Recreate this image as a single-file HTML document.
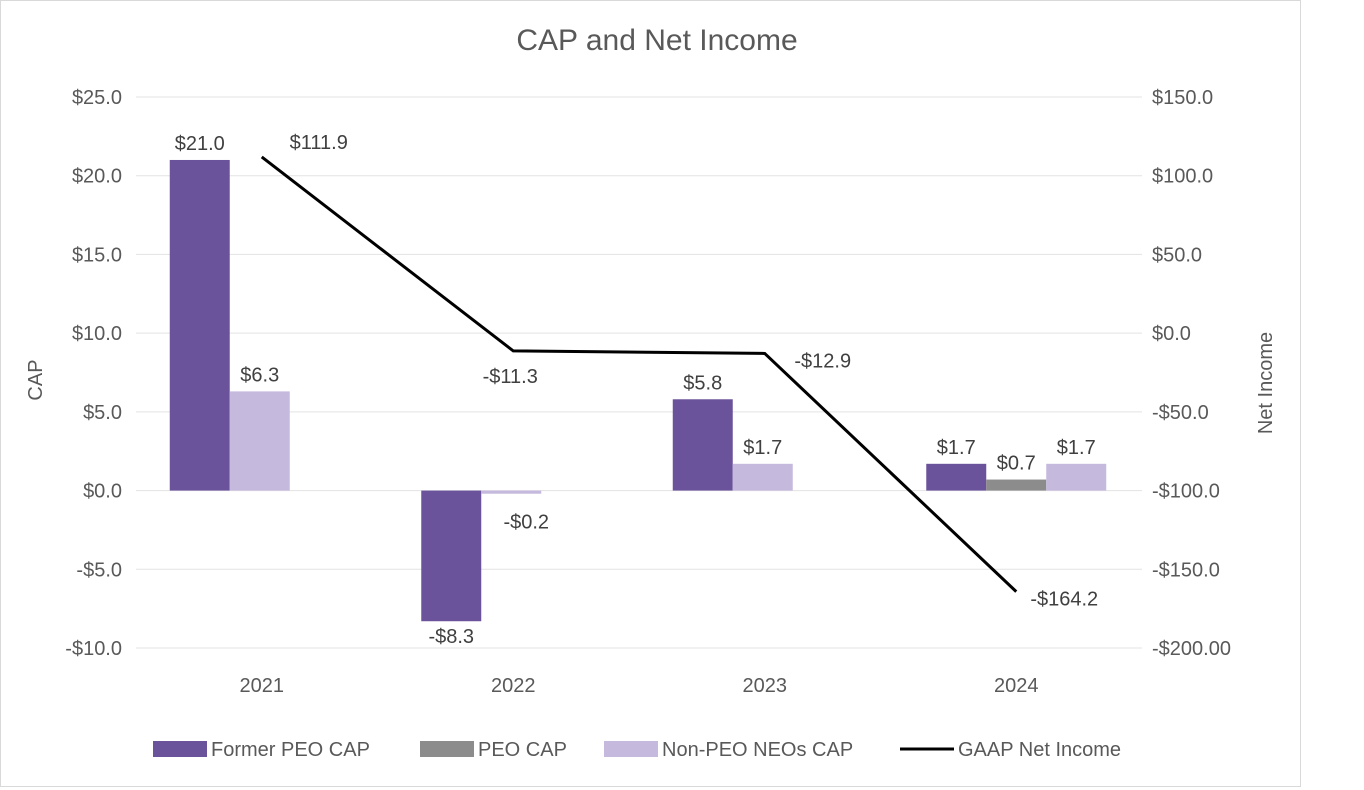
<!DOCTYPE html>
<html><head><meta charset="utf-8"><style>
body{margin:0;background:#fff;}
svg{display:block;font-family:"Liberation Sans",sans-serif;}
</style></head><body>
<svg id="c" width="1364" height="790"></svg>
<script>
const categories=["2021","2022","2023","2024"];
const formerPeo=[21.0,-8.3,5.8,1.7];
const peoCap=[null,null,null,0.7];
const nonPeo=[6.3,-0.2,1.7,1.7];
const netIncome=[111.9,-11.3,-12.9,-164.2];
const leftTicks=[25,20,15,10,5,0,-5,-10];
const leftTickLabels=["$25.0","$20.0","$15.0","$10.0","$5.0","$0.0","-$5.0","-$10.0"];
const rightTicks=[150,100,50,0,-50,-100,-150,-200];
const rightTickLabels=["$150.0","$100.0","$50.0","$0.0","-$50.0","-$100.0","-$150.0","-$200.00"];

const svg=document.getElementById('c');
const NS='http://www.w3.org/2000/svg';
function mk(t,a,txt){const e=document.createElementNS(NS,t);for(const k in a)e.setAttribute(k,a[k]);if(txt!=null)e.textContent=txt;svg.appendChild(e);return e;}
const X0=136,X1=1142,TOP=97,BOT=648;
const yL=v=>TOP+(25-v)*(BOT-TOP)/35;
const yR=v=>TOP+(150-v)*(BOT-TOP)/350;
const bw=(X1-X0)/categories.length;
const cx=i=>X0+bw*(i+0.5);
const gray='#595959';

let e=mk('rect',{x:0.5,y:0.5,width:1300,height:786,fill:'#fff',stroke:'#d9d9d9'});

e=mk('text',{x:657,y:50,'text-anchor':'middle','font-size':30,fill:gray},'CAP and Net Income');


leftTicks.forEach((v,i)=>{
  e=mk('line',{x1:X0,x2:X1,y1:yL(v),y2:yL(v),stroke:'#e3e3e3','stroke-width':1});
  
  e=mk('text',{x:122,y:yL(v)+7,'text-anchor':'end','font-size':20,fill:gray},leftTickLabels[i]);
  
});
rightTicks.forEach((v,i)=>{
  e=mk('text',{x:1152,y:yR(v)+7,'font-size':20,fill:gray},rightTickLabels[i]);
  
});
e=mk('text',{x:42,y:380,'text-anchor':'middle','font-size':20,fill:gray,transform:'rotate(-90 42 380)'},'CAP');

e=mk('text',{x:1272,y:383,'text-anchor':'middle','font-size':20,fill:gray,transform:'rotate(-90 1272 383)'},'Net Income');

categories.forEach((c,i)=>{
  e=mk('text',{x:cx(i),y:692,'text-anchor':'middle','font-size':20,fill:gray},c);
  
});

const z=yL(0);
categories.forEach((c,i)=>{
  const group=[[formerPeo[i],'#6b539b'],[peoCap[i],'#8c8c8c'],[nonPeo[i],'#c5b9dd']].filter(d=>d[0]!=null);
  const start=group.length===3?-90:-92;
  group.forEach(([v,col],k)=>{
    const x=cx(i)+start+k*60;
    const y=yL(v);
    e=mk('rect',{x:x,y:Math.min(y,z),width:60,height:Math.max(1,Math.abs(z-y)),fill:col});
    
    const lbl=(v<0?'-$':'$')+Math.abs(v).toFixed(1);
    let ly,lx=x+30;
    if(v>=0) ly=y-10;
    else if(v<-1) ly=y+22;
    else {ly=z+38;lx+=15;}
    e=mk('text',{x:lx,y:ly,'text-anchor':'middle','font-size':20,fill:'#404040'},lbl);
    
  });
});
const pts=netIncome.map((v,i)=>cx(i)+','+yR(v)).join(' ');
e=mk('polyline',{points:pts,fill:'none',stroke:'#000','stroke-width':3});

const nOff=[[57,-8],[-3,32],[58,14],[48,14]];
netIncome.forEach((v,i)=>{
  const lbl=(v<0?'-$':'$')+Math.abs(v).toFixed(1);
  e=mk('text',{x:cx(i)+nOff[i][0],y:yR(v)+nOff[i][1],'text-anchor':'middle','font-size':20,fill:'#404040'},lbl);
  
});

const leg=[['Former PEO CAP','#6b539b',153,'rect'],['PEO CAP','#8c8c8c',420,'rect'],['Non-PEO NEOs CAP','#c5b9dd',604,'rect'],['GAAP Net Income','#000',900,'line']];
leg.forEach(([t,col,x,kind])=>{
  if(kind==='rect') e=mk('rect',{x:x,y:741,width:54,height:16,fill:col});
  else e=mk('line',{x1:x,x2:x+54,y1:749,y2:749,stroke:col,'stroke-width':3});
  
  e=mk('text',{x:x+58,y:756,'font-size':20,fill:gray},t);
  
});
</script>
</body></html>
